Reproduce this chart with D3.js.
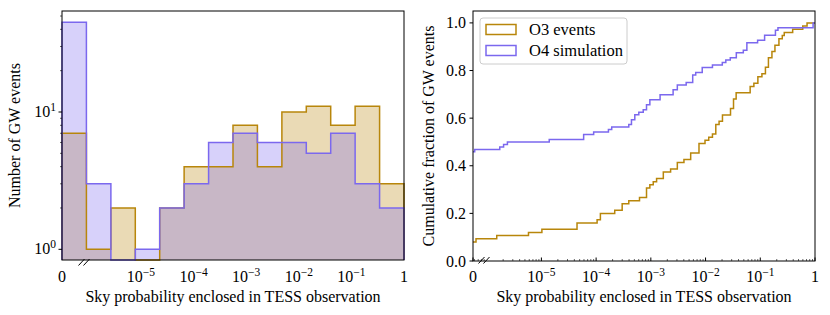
<!DOCTYPE html>
<html>
  <head>
    <script src="https://d3js.org/d3.v7.min.js"></script>
    <style>
      body { margin: 0; background: #fff; }
      text { font-family: "Liberation Serif", serif; fill: #000; }
    </style>
  </head>
  <body>
    <script>

    // histogram bins in log10 of enclosed probability (first bin starts at the "0" position)
    var binEdges = [-6.5, -6.036, -5.571, -5.107, -4.643, -4.179, -3.714, -3.25,
      -2.786, -2.321, -1.857, -1.393, -0.929, -0.464, 0];
    var o3Counts = [7, 1, 2, 0, 2, 4, 4, 8, 4, 10, 11, 8, 11, 3];
    var o4Counts = [45, 3, 0, 1, 2, 3, 6, 7, 6, 6, 5, 7, 3, 2];

    // per-event log10 probabilities for the cumulative panel (zeros counted separately)
    var o3Zeros = 6;
    var o3Log = [-6.195, -5.816, -5.236, -4.991, -4.349, -4.349, -3.982, -3.922, -3.922,
      -3.660, -3.524, -3.524, -3.403, -3.207, -3.079, -3.079, -3.079, -3.018, -2.956,
      -2.895, -2.772, -2.772, -2.639, -2.516, -2.516, -2.395, -2.272, -2.272,
      -2.12, -2.12, -2.12, -2.01, -1.942, -1.874, -1.813, -1.813, -1.813, -1.753,
      -1.691, -1.691, -1.544, -1.544, -1.489, -1.489, -1.489, -1.441, -1.441,
      -1.185, -1.185, -1.117, -1.044, -1.044, -0.970, -0.906, -0.906,
      -0.851, -0.851, -0.851, -0.787, -0.787, -0.732, -0.732, -0.659, -0.659,
      -0.598, -0.562, -0.408, -0.224, -0.145];
    var o4Zeros = 44;
    var o4Log = [-6.219, -5.761, -5.691, -5.621, -4.857, -4.228, -4.228, -4.045,
      -3.775, -3.715, -3.403, -3.354, -3.354, -3.293, -3.293, -3.220, -3.139,
      -3.079, -3.079, -3.018, -3.018, -2.831, -2.831, -2.593, -2.593, -2.516, -2.516,
      -2.354, -2.235, -2.235, -2.235, -2.18, -2.061, -2.061, -1.874, -1.694, -1.630,
      -1.548, -1.438, -1.438, -1.31, -1.245, -1.245, -1.245, -1.049, -0.921, -0.921,
      -0.723, -0.723, -0.677, -0.035, -0.035];

    var xTickLogs = [-5, -4, -3, -2, -1, 0];
    var xLabel = "Sky probability enclosed in TESS observation";
    var names = ["O3 events", "O4 simulation"];
    var colors = ["#b8860b", "#7b68ee"];

    var W = 830, H = 315;
    var tickFs = "16px", supFs = "11.5px", labFs = "16px";
    var svg = d3.select("body").append("svg")
      .attr("width", W).attr("height", H);

    // superscripted tick label for 10^n
    function powLabel(sel, n) {
      sel.append("tspan").text("10");
      sel.append("tspan").attr("dy", -6.5).attr("font-size", supFs).text("\u2212" + Math.abs(n));
    }

    // ---------------- left panel: histogram ----------------
    var L = {x0: 62, x1: 404, y0: 11, y1: 260};
    var xl = d3.scaleLinear().domain([-6.5, 0]).range([L.x0, L.x1]);
    var yl = d3.scaleLog().domain([0.836, 54.4]).range([L.y1, L.y0]);
    var gl = svg.append("g");

    function histPts(counts) {
      var pts = [[xl(binEdges[0]), L.y1]];
      counts.forEach(function(c, i) {
        var y = c > 0 ? yl(c) : L.y1;
        pts.push([xl(binEdges[i]), y]);
        pts.push([xl(binEdges[i + 1]), y]);
      });
      pts.push([xl(binEdges[binEdges.length - 1]), L.y1]);
      return pts;
    }
    var line = d3.line();
    [o3Counts, o4Counts].forEach(function(c, k) {
      gl.append("path").attr("d", line(histPts(c)) + "Z")
        .attr("fill", colors[k]).attr("fill-opacity", 0.3).attr("stroke", "none");
    });
    [o3Counts, o4Counts].forEach(function(c, k) {
      gl.append("path").attr("d", line(histPts(c)))
        .attr("fill", "none").attr("stroke", colors[k]).attr("stroke-width", 1.5);
    });

    // frame
    gl.append("rect").attr("x", L.x0).attr("y", L.y0)
      .attr("width", L.x1 - L.x0).attr("height", L.y1 - L.y0)
      .attr("fill", "none").attr("stroke", "#000").attr("stroke-width", 1);

    // y ticks (log)
    [1, 10].forEach(function(v, i) {
      gl.append("line").attr("x1", L.x0 - 3.5).attr("x2", L.x0)
        .attr("y1", yl(v)).attr("y2", yl(v)).attr("stroke", "#000");
      var t = gl.append("text").attr("x", L.x0 - 6).attr("y", yl(v) + 5)
        .attr("text-anchor", "end").attr("font-size", tickFs);
      t.append("tspan").text("10");
      t.append("tspan").attr("dy", -6.5).attr("font-size", supFs).text(i);
    });
    [2, 3, 4, 5, 6, 7, 8, 9, 20, 30, 40, 50].forEach(function(v) {
      gl.append("line").attr("x1", L.x0 - 2).attr("x2", L.x0)
        .attr("y1", yl(v)).attr("y2", yl(v)).attr("stroke", "#000").attr("stroke-width", 0.6);
    });

    // x tick labels
    gl.append("text").attr("x", xl(-6.5)).attr("y", 282).attr("text-anchor", "middle")
      .attr("font-size", tickFs).text("0");
    xTickLogs.forEach(function(n) {
      var t = gl.append("text").attr("x", xl(n)).attr("y", 282)
        .attr("text-anchor", "middle").attr("font-size", tickFs);
      if (n === 0) t.text("1"); else powLabel(t, n);
    });
    gl.append("text").attr("x", (L.x0 + L.x1) / 2).attr("y", 302)
      .attr("text-anchor", "middle").attr("font-size", labFs).text(xLabel);
    gl.append("text").attr("transform", "translate(20," + (L.y0 + L.y1) / 2 + ") rotate(-90)")
      .attr("text-anchor", "middle").attr("font-size", labFs).text("Number of GW events");

    // axis break marks
    function breakMark(g, cx, cy) {
      [-2.5, 2.5].forEach(function(dx) {
        g.append("line").attr("x1", cx + dx - 3).attr("y1", cy + 3.5)
          .attr("x2", cx + dx + 3).attr("y2", cy - 3)
          .attr("stroke", "#000").attr("stroke-width", 1);
      });
    }
    breakMark(gl, 84, L.y1 + 2);

    // ---------------- right panel: cumulative ----------------
    var R = {x0: 473, x1: 815, y0: 11, y1: 261};
    var xr = d3.scaleLinear().domain([-6.25, 0]).range([R.x0, R.x1]);
    var yr = d3.scaleLinear().domain([0, 1.05]).range([R.y1, R.y0]);
    var gr = svg.append("g");

    // minor + major x ticks (inside)
    var minors = [];
    [-7, -6, -5, -4, -3, -2, -1].forEach(function(d) {
      for (var m = 2; m <= 9; m++) {
        var v = d + Math.log10(m);
        if (v > -6.25) minors.push(v);
      }
    });
    minors.forEach(function(v) {
      gr.append("line").attr("x1", xr(v)).attr("x2", xr(v))
        .attr("y1", R.y1).attr("y2", R.y1 - 2).attr("stroke", "#000").attr("stroke-width", 0.6);
    });
    [-6.25].concat(xTickLogs).forEach(function(v) {
      gr.append("line").attr("x1", xr(v)).attr("x2", xr(v))
        .attr("y1", R.y1).attr("y2", R.y1 - 3.5).attr("stroke", "#000");
    });

    function cdfPts(zeros, logs) {
      var n = zeros + logs.length;
      var pts = [[xr(-6.25), yr(zeros / n)]];
      logs.forEach(function(v, i) {
        pts.push([xr(v), yr((zeros + i + 1) / n)]);
      });
      pts.push([xr(0), yr(1)]);
      return pts;
    }
    var stepLine = d3.line().curve(d3.curveStepAfter);
    [[o3Zeros, o3Log], [o4Zeros, o4Log]].forEach(function(s, k) {
      gr.append("path").attr("d", stepLine(cdfPts(s[0], s[1])))
        .attr("fill", "none").attr("stroke", colors[k]).attr("stroke-width", 1.5);
    });

    gr.append("rect").attr("x", R.x0).attr("y", R.y0)
      .attr("width", R.x1 - R.x0).attr("height", R.y1 - R.y0)
      .attr("fill", "none").attr("stroke", "#000").attr("stroke-width", 1);

    // y ticks
    [0, 0.2, 0.4, 0.6, 0.8, 1.0].forEach(function(v) {
      gr.append("line").attr("x1", R.x0 - 3.5).attr("x2", R.x0)
        .attr("y1", yr(v)).attr("y2", yr(v)).attr("stroke", "#000");
      gr.append("text").attr("x", R.x0 - 7).attr("y", yr(v) + 5.5)
        .attr("text-anchor", "end").attr("font-size", tickFs).text(v.toFixed(1));
    });

    gr.append("text").attr("x", xr(-6.25)).attr("y", 282).attr("text-anchor", "middle")
      .attr("font-size", tickFs).text("0");
    xTickLogs.forEach(function(n) {
      var t = gr.append("text").attr("x", xr(n)).attr("y", 282)
        .attr("text-anchor", "middle").attr("font-size", tickFs);
      if (n === 0) t.text("1"); else powLabel(t, n);
    });
    gr.append("text").attr("x", (R.x0 + R.x1) / 2).attr("y", 302)
      .attr("text-anchor", "middle").attr("font-size", labFs).text(xLabel);
    gr.append("text").attr("transform", "translate(434," + (R.y0 + R.y1) / 2 + ") rotate(-90)")
      .attr("text-anchor", "middle").attr("font-size", labFs).text("Cumulative fraction of GW events");
    breakMark(gr, 484, R.y1 - 1);

    // legend
    var lg = gr.append("g");
    lg.append("rect").attr("x", 480).attr("y", 18).attr("width", 147).attr("height", 46)
      .attr("rx", 3).attr("fill", "#fff").attr("fill-opacity", 0.8)
      .attr("stroke", "#ccc").attr("stroke-width", 1);
    names.forEach(function(nm, k) {
      var yy = 24.5 + k * 21;
      lg.append("rect").attr("x", 486).attr("y", yy).attr("width", 30).attr("height", 10)
        .attr("fill", "none").attr("stroke", colors[k]).attr("stroke-width", 1.5);
      lg.append("text").attr("x", 529).attr("y", yy + 10.5).attr("font-size", "16.5px").text(nm);
    });

    </script>
  </body>
</html>
